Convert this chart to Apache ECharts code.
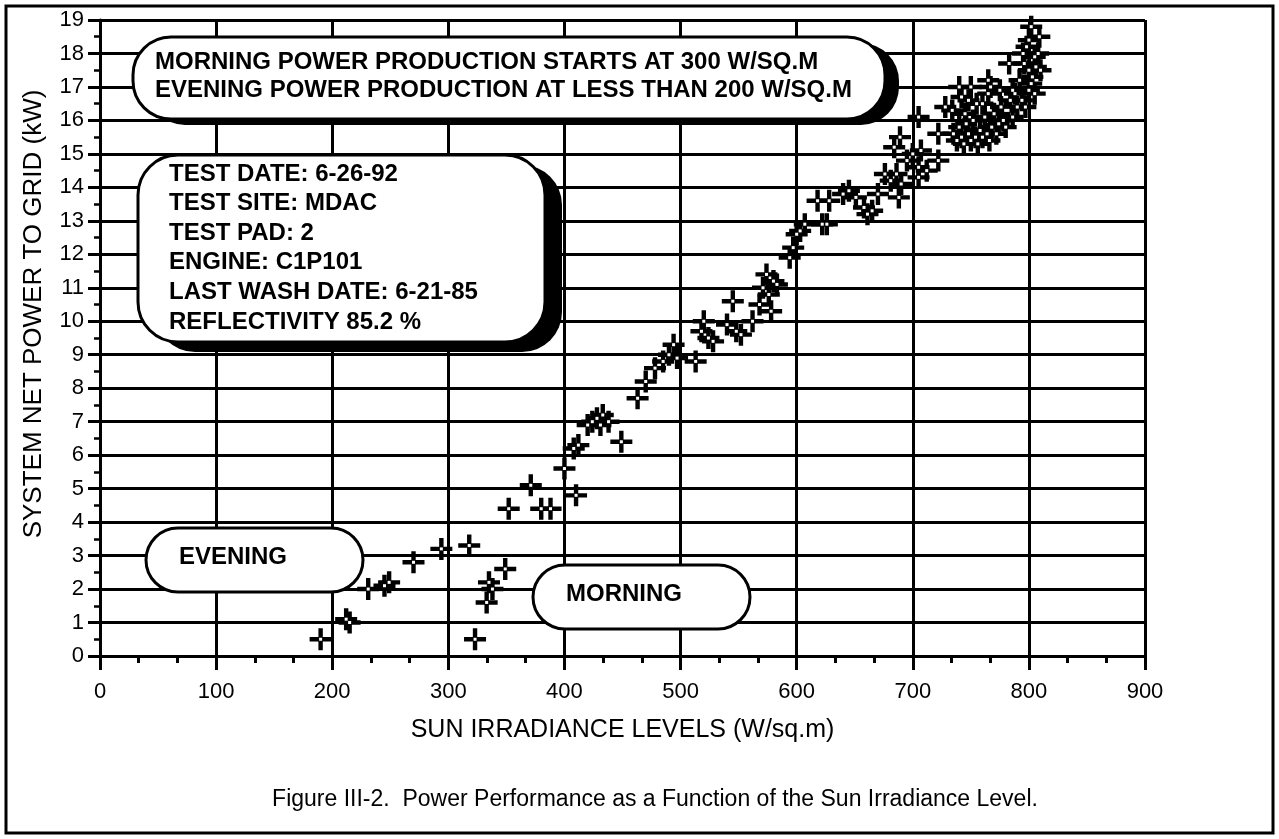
<!DOCTYPE html>
<html>
<head>
<meta charset="utf-8">
<title>Power Performance vs Sun Irradiance</title>
<script src="https://cdn.jsdelivr.net/npm/echarts@6/dist/echarts.min.js"></script>
<style>
  html, body { margin: 0; padding: 0; background: #fff; }
  #chart { width: 1279px; height: 839px; }
</style>
</head>
<body>
<div id="chart"></div>
<script>
// irradiance (W/sq.m) and net power to grid (kW)
var irradiance = [
  190, 212, 215, 231, 245, 249, 270, 294, 318, 323,
  333, 335, 338, 349, 352, 371, 380, 388, 400, 408,
  410, 412, 420, 424, 428, 431, 433, 438, 449, 463,
  470, 478, 485, 490, 494, 497, 513, 518, 520, 524,
  528, 540, 545, 548, 552, 562, 568, 571, 574, 576,
  578, 580, 583, 594, 597, 600, 603, 607, 618, 622,
  626, 628, 640, 645, 651, 658, 661, 665, 670, 676,
  681, 684, 686, 688, 689, 690, 695, 700, 705, 705,
  705, 707, 712, 722, 722, 728, 734, 735, 738, 740,
  740, 742, 742, 744, 745, 746, 748, 748, 750, 750,
  752, 754, 755, 756, 758, 760, 760, 762, 764, 765,
  765, 766, 767, 768, 770, 772, 774, 775, 776, 778,
  780, 780, 782, 783, 784, 786, 786, 788, 790, 792,
  794, 795, 796, 797, 798, 800, 800, 800, 802, 802,
  803, 805, 805, 806, 808, 809, 810
];
var netPower = [
  0.5, 1.1, 1.0, 2.0, 2.1, 2.2, 2.8, 3.2, 3.3, 0.5,
  1.6, 2.2, 2.0, 2.6, 4.4, 5.1, 4.4, 4.4, 5.6, 6.2,
  4.8, 6.3, 6.9, 7.0, 7.1, 6.9, 7.2, 7.0, 6.4, 7.7,
  8.2, 8.6, 8.8, 9.0, 9.3, 8.9, 8.8, 9.7, 10.0, 9.5,
  9.4, 9.9, 10.6, 9.7, 9.6, 10.0, 10.5, 11.0, 11.4, 10.8,
  10.3, 11.2, 11.1, 11.9, 12.2, 12.6, 12.7, 12.9, 13.6, 12.9,
  12.9, 13.6, 13.8, 13.9, 13.7, 13.4, 13.2, 13.3, 13.8, 14.4,
  14.2, 15.2, 14.4, 13.7, 15.5, 14.1, 14.8, 15.0, 16.1, 14.3,
  14.6, 15.1, 14.5, 15.6, 14.8, 16.4, 16.3, 15.6, 15.4, 15.8,
  17.0, 15.5, 16.7, 15.3, 16.2, 15.9, 15.6, 16.6, 15.4, 17.0,
  16.0, 15.5, 16.5, 15.3, 15.7, 15.5, 16.5, 16.1, 15.6, 16.8,
  17.2, 15.4, 17.0, 15.8, 16.2, 15.6, 15.9, 16.9, 16.4, 16.0,
  15.8, 16.3, 16.3, 17.7, 16.6, 16.1, 16.9, 16.8, 16.4, 17.2,
  16.6, 18.0, 17.7, 16.4, 18.2, 17.5, 16.9, 18.4, 18.8, 17.1,
  17.3, 17.9, 16.8, 17.6, 18.0, 18.5, 17.5
];

var xTicks = [0, 900, 100];   // min, max, step
var yTicks = [0, 19, 1];

var topNote = [
  'MORNING POWER PRODUCTION STARTS AT 300 W/SQ.M',
  'EVENING POWER PRODUCTION AT LESS THAN 200 W/SQ.M'
];
var testInfo = [
  'TEST DATE: 6-26-92',
  'TEST SITE: MDAC',
  'TEST PAD: 2',
  'ENGINE: C1P101',
  'LAST WASH DATE: 6-21-85',
  'REFLECTIVITY 85.2 %'
];
var caption = 'Figure III-2.  Power Performance as a Function of the Sun Irradiance Level.';

var points = irradiance.map(function (x, i) { return [x, netPower[i]]; });

var FONT = 'Liberation Sans, Arial, Helvetica, sans-serif';
var plus = 'path://M8,0 H12 V8 H20 V12 H12 V20 H8 V12 H0 V8 H8 Z';

// rounded box with a solid drop shadow
function shadowBox(x, y, w, h, r, dx, dy) {
  return [
    { type: 'rect', z: 10, shape: { x: x + dx, y: y + dy, width: w, height: h, r: r },
      style: { fill: '#000' } },
    { type: 'rect', z: 11, shape: { x: x, y: y, width: w, height: h, r: r },
      style: { fill: '#fff', stroke: '#000', lineWidth: 3 } }
  ];
}

function pill(x, y, w, h, label) {
  return [
    { type: 'rect', z: 10, shape: { x: x, y: y, width: w, height: h, r: h / 2 },
      style: { fill: '#fff', stroke: '#000', lineWidth: 3 } },
    { type: 'text', z: 12, x: x + 33, y: y + h / 2 - 3,
      style: { text: label, font: 'bold 24px ' + FONT, fill: '#000', verticalAlign: 'middle' } }
  ];
}

var graphics = [];
graphics.push({ type: 'rect', z: 1, shape: { x: 6, y: 6, width: 1267, height: 827 },
  style: { fill: 'none', stroke: '#000', lineWidth: 3 } });
graphics = graphics.concat(shadowBox(133, 37, 752, 82, 38, 14, 6));
topNote.forEach(function (t, i) {
  graphics.push({ type: 'text', z: 12, x: 155, y: 62 + i * 28,
    style: { text: t, font: 'bold 24px ' + FONT, fill: '#000', verticalAlign: 'middle' } });
});
graphics = graphics.concat(shadowBox(138, 155, 407, 187, 40, 17, 10));
testInfo.forEach(function (t, i) {
  graphics.push({ type: 'text', z: 12, x: 169, y: 174 + i * 29.6,
    style: { text: t, font: 'bold 24px ' + FONT, fill: '#000', verticalAlign: 'middle' } });
});
graphics = graphics.concat(pill(146, 528, 217, 64, 'EVENING'));
graphics = graphics.concat(pill(533, 565, 217, 64, 'MORNING'));
graphics.push({ type: 'text', z: 12, x: 655, y: 800,
  style: { text: caption, font: '23px ' + FONT, fill: '#000', align: 'center', verticalAlign: 'middle' } });
graphics.push({ type: 'text', z: 12, x: 34, y: 314, rotation: Math.PI / 2,
  style: { text: 'SYSTEM NET POWER TO GRID (kW)', font: '26px ' + FONT, fill: '#000',
    align: 'center', verticalAlign: 'middle' } });

var chart = echarts.init(document.getElementById('chart'));
chart.setOption({
  backgroundColor: '#fff',
  animation: false,
  grid: { left: 100, right: 134, top: 20, bottom: 183 },
  xAxis: {
    type: 'value', min: xTicks[0], max: xTicks[1], interval: xTicks[2],
    name: 'SUN IRRADIANCE LEVELS (W/sq.m)', nameLocation: 'middle', nameGap: 62,
    nameTextStyle: { fontFamily: FONT, fontSize: 25, color: '#000' },
    axisLine: { lineStyle: { color: '#000', width: 3 } },
    axisTick: { length: 14, lineStyle: { color: '#000', width: 3 } },
    minorTick: { show: true, splitNumber: 3, length: 7, lineStyle: { color: '#000', width: 3 } },
    splitLine: { show: true, lineStyle: { color: '#000', width: 3 } },
    axisLabel: { fontFamily: FONT, fontSize: 22, color: '#000', margin: 25 }
  },
  yAxis: {
    type: 'value', min: yTicks[0], max: yTicks[1], interval: yTicks[2],
    axisLine: { lineStyle: { color: '#000', width: 3 } },
    axisTick: { length: 12, lineStyle: { color: '#000', width: 3 } },
    minorTick: { show: true, splitNumber: 2, length: 6, lineStyle: { color: '#000', width: 2.5 } },
    splitLine: { show: true, lineStyle: { color: '#000', width: 3 } },
    axisLabel: { fontFamily: FONT, fontSize: 22, color: '#000', margin: 16 }
  },
  series: [
    { type: 'scatter', data: points, symbol: plus, symbolSize: 22, z: 3,
      itemStyle: { color: '#000', opacity: 1 }, silent: true },
    { type: 'scatter', data: points, symbol: 'rect', symbolSize: 3, z: 4,
      itemStyle: { color: '#fff', opacity: 1 }, silent: true }
  ],
  graphic: graphics
});
</script>
</body>
</html>
